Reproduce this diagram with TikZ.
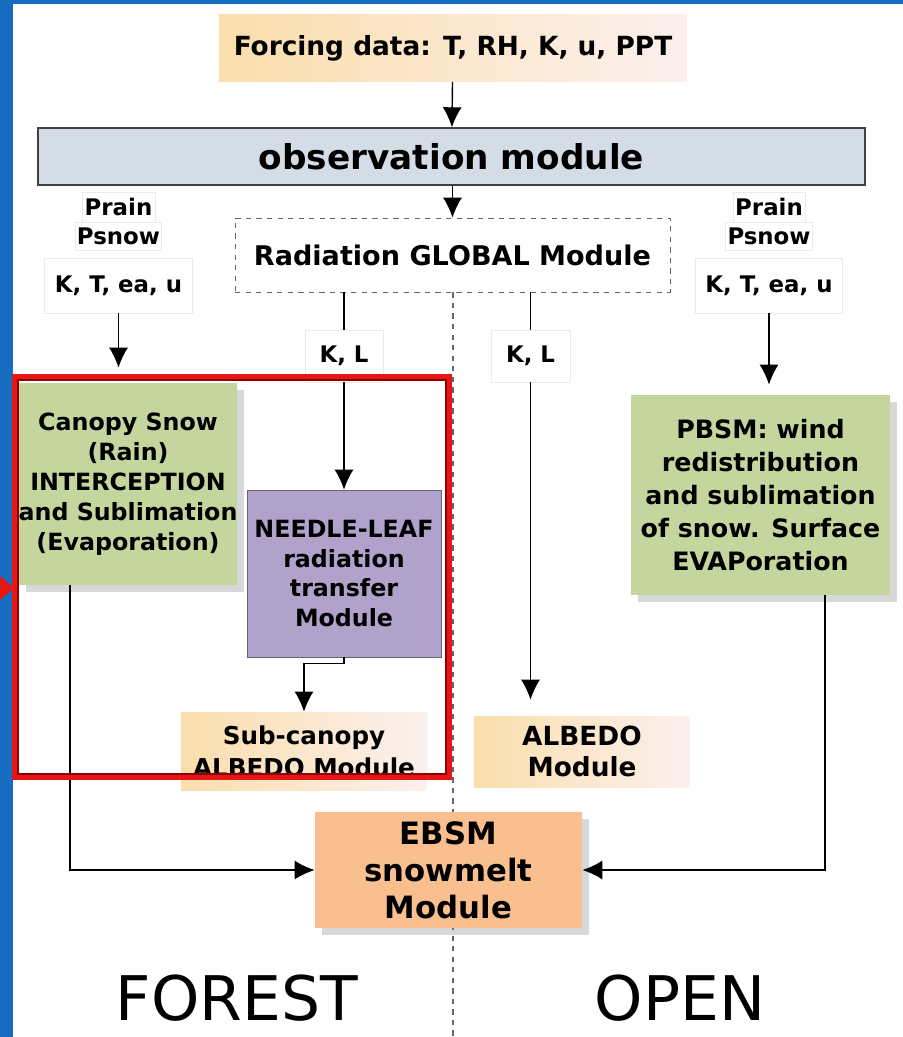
\documentclass[tikz,border=0pt]{standalone}
\usepackage{fontspec}
\setmainfont{DejaVu Sans}
\usetikzlibrary{shapes.geometric, arrows.meta, shadows}

\definecolor{frameblue}{RGB}{22,108,190}
\definecolor{forcingL}{RGB}{251,222,172}
\definecolor{forcingR}{RGB}{251,240,238}
\definecolor{obsblue}{RGB}{212,220,230}
\definecolor{canopygreen}{RGB}{196,214,158}
\definecolor{needlepurple}{RGB}{176,162,202}
\definecolor{ebsmorange}{RGB}{249,191,143}
\definecolor{framered}{RGB}{228,22,22}
\definecolor{framedark}{RGB}{140,0,0}

\tikzstyle{io}=[rectangle, left color=forcingL, right color=forcingR, inner sep=0pt, align=center]
\tikzstyle{obsbox}=[rectangle, draw=black!75, line width=0.8pt, fill=obsblue, inner sep=0pt]
\tikzstyle{radbox}=[rectangle, draw=black!60, dashed, fill=white, inner sep=0pt]
\tikzstyle{varbox}=[rectangle, draw=black!8, fill=white, inner sep=1pt, font=\fontsize{13pt}{15pt}\selectfont\bfseries]
\tikzstyle{process1}=[rectangle, fill=canopygreen, inner sep=0pt, align=center, drop shadow={shadow xshift=1.4mm, shadow yshift=-1.4mm, opacity=0.3}]
\tikzstyle{process2}=[rectangle, draw=black!60, fill=needlepurple, inner sep=0pt, align=center]
\tikzstyle{process3}=[rectangle, fill=ebsmorange, inner sep=0pt, align=center, drop shadow={shadow xshift=1.4mm, shadow yshift=-1.4mm, opacity=0.3}]
\tikzstyle{arrow}=[draw, line width=0.8pt, -{Latex[length=4mm,width=3.8mm]}]
\tikzstyle{link}=[draw, line width=0.8pt]
\tikzstyle{sep}=[draw=black!60, dashed, line width=0.6pt]
\tikzstyle{zone}=[font=\fontsize{35pt}{40pt}\selectfont]

\begin{document}
\begin{tikzpicture}[x=0.2mm, y=-0.2mm, node distance=5.8mm]
		% frame
		\fill[frameblue] (0,0) rectangle (903,1037);
		\fill[white] (13,4) rectangle (903,1037);
		\useasboundingbox (0,0) rectangle (903,1037);
		\coordinate (sepend) at (453,1037);

		\node (forcing) [io, minimum width=93.4mm, minimum height=13.4mm, font=\fontsize{15pt}{18pt}\selectfont\bfseries] at (453,48) {Forcing data: T, RH, K, u, PPT};
		\node (obs) [obsbox, minimum width=165.4mm, minimum height=11.4mm, font=\fontsize{19.5pt}{23pt}\selectfont\bfseries] at (451.5,156.5) {observation module};
		\node (rad) [radbox, minimum width=87mm, minimum height=14.8mm, font=\fontsize{15.4pt}{18pt}\selectfont\bfseries] at (452.5,255) {Radiation GLOBAL Module};
		\draw[sep] (rad.south -| sepend) -- (sepend);

		\node (prainL) [varbox, minimum width=14.6mm, minimum height=6mm] at (118.5,207) {Prain};
		\node (psnowL) [varbox, below of=prainL, minimum width=17.2mm, minimum height=5.6mm] {Psnow};
		\node (ktL) [varbox, below of=psnowL, yshift=-4.1mm, minimum width=29.6mm, minimum height=11mm] {K, T, ea, u};
		\node (prainR) [varbox, minimum width=14.4mm, minimum height=6mm] at (769,207) {Prain};
		\node (psnowR) [varbox, below of=prainR, minimum width=17.4mm, minimum height=5.6mm] {Psnow};
		\node (ktR) [varbox, below of=psnowR, yshift=-4.1mm, minimum width=29.4mm, minimum height=11mm] {K, T, ea, u};
		\node (klL) [varbox, minimum width=15.6mm, minimum height=10.4mm] at (344,356) {K, L};
		\node (klR) [varbox, minimum width=15.8mm, minimum height=10.4mm] at (530.5,356) {K, L};

		\node (canopy) [process1, minimum width=43.2mm, minimum height=40.4mm, font=\fontsize{13.5pt}{17pt}\selectfont\bfseries] at (128,484) {Canopy Snow\\(Rain)\\INTERCEPTION\\and Sublimation\\(Evaporation)};
		\node (needle) [process2, minimum width=38.8mm, minimum height=33.4mm, font=\fontsize{13.5pt}{17pt}\selectfont\bfseries] at (344,573.5) {NEEDLE-LEAF\\radiation\\transfer\\Module};
		\node (subalb) [io, minimum width=49.2mm, minimum height=15.6mm, font=\fontsize{14pt}{18pt}\selectfont\bfseries] at (304,751) {Sub-canopy\\ALBEDO Module};
		\node (alb) [io, minimum width=43.2mm, minimum height=14.2mm, font=\fontsize{15pt}{18pt}\selectfont\bfseries] at (582,751.5) {ALBEDO\\Module};
		\node (pbsm) [process1, minimum width=51.8mm, minimum height=40mm, font=\fontsize{14.4pt}{18.7pt}\selectfont\bfseries] at (760.5,495) {PBSM: wind\\redistribution\\and sublimation\\of snow. Surface\\EVAPoration};
		\node (ebsm) [process3, minimum width=53.4mm, minimum height=23.2mm, font=\fontsize{17.5pt}{21pt}\selectfont\bfseries] at (448.5,870) {EBSM\\snowmelt\\Module};

		\node (forest) [zone] at (237,998) {FOREST};
		\node (open) [zone] at (680,998) {OPEN};

		\draw[arrow] (forcing) -- (obs);
		\draw[arrow] (obs.south -| rad.north) -- (rad.north);
		\draw[arrow, shorten >=3mm] (ktL.south) -- (ktL.south |- canopy.north);
		\draw[arrow, shorten >=2mm] (ktR.south) -- (ktR.south |- pbsm.north);
		\draw[link] (rad.south -| klL.north) -- (klL.north);
		\draw[link] (rad.south -| klR.north) -- (klR.north);
		\draw[arrow] (klL.south) -- (klL.south |- needle.north);
		\draw[arrow, shorten >=3.2mm] (klR.south) -- (klR.south |- alb.north);
		\draw[arrow] (needle.south) -- ++(0,6) -| (subalb.north);
		\draw[arrow] ([xshift=-11.6mm]canopy.south) |- (ebsm.west);
		\draw[arrow] ([xshift=12.9mm]pbsm.south) |- (ebsm.east);

		% forest frame
		\fill[framered] (0,576) -- (14,588) -- (0,600) -- cycle;
		\draw[framered, line width=1mm] (14.5,376.5) rectangle (449.5,777.5);
		\draw[framedark, line width=0.4mm] (18,380) rectangle (446,774);
\end{tikzpicture}
\end{document}
